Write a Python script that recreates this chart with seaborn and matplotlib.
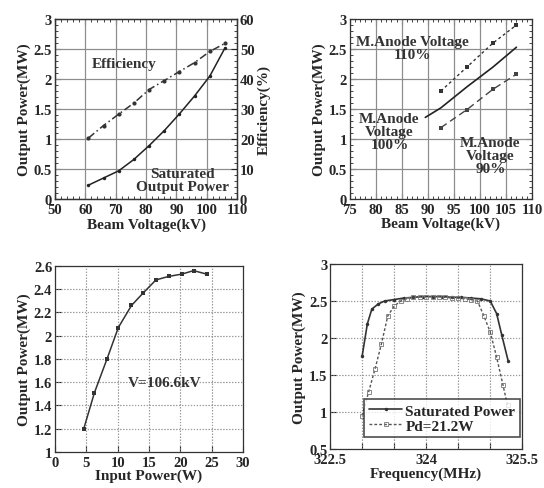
import numpy as np
import pandas as pd
import matplotlib
matplotlib.use('Agg')
import matplotlib.pyplot as plt
from matplotlib.ticker import MultipleLocator, FuncFormatter
import seaborn as sns

sns.set_style('ticks')
plt.rcParams['font.family'] = ['Liberation Serif', 'DejaVu Serif']
plt.rcParams['font.weight'] = 'bold'
plt.rcParams['axes.labelweight'] = 'bold'
plt.rcParams.update({
    'xtick.direction': 'in', 'ytick.direction': 'in',
    'xtick.major.size': 4, 'ytick.major.size': 4,
    'xtick.minor.size': 2, 'ytick.minor.size': 2,
    'xtick.labelsize': 10.5, 'ytick.labelsize': 10.5,
    'xtick.major.pad': 3, 'ytick.major.pad': 2,
    'axes.grid': True, 'axes.grid.which': 'major',
    'grid.color': '#8c8c8c', 'grid.linewidth': 0.8, 'grid.linestyle': '-',
    'axes.edgecolor': '#333333', 'axes.linewidth': 0.9,
})

# %% data
# (a) output power and efficiency vs beam voltage
beam_kv_a = [61, 66, 71, 76, 81, 86, 91, 96, 101, 106]
power_a = [0.23, 0.35, 0.47, 0.66, 0.89, 1.14, 1.42, 1.72, 2.05, 2.52]
eff_a = [20.3, 24.5, 28.3, 32, 36.5, 39.5, 42.5, 45.5, 49.2, 51.9]

# (b) output power vs beam voltage for three mod-anode voltages
beam_kv_110 = [92.5, 97.5, 102.5, 107]
power_110 = [1.8, 2.2, 2.6, 2.9]
beam_kv_100 = [89.5, 92.5, 97.5, 102.5, 107]
power_100 = [1.36, 1.52, 1.87, 2.2, 2.53]
beam_kv_90 = [92.5, 97.5, 102.5, 107]
power_90 = [1.19, 1.49, 1.83, 2.08]

# (c) output power vs input power
input_w = [4.6, 6.3, 8.3, 10.1, 12.2, 14.1, 16.1, 18.1, 20.2, 22.1, 24.2]
power_c = [1.2, 1.51, 1.8, 2.07, 2.26, 2.37, 2.48, 2.51, 2.53, 2.56, 2.53]

# (d) output power vs frequency
freq_sat = [323.0, 323.08, 323.15, 323.25, 323.35, 323.5, 323.65, 323.8, 323.95, 324.1,
            324.25, 324.4, 324.55, 324.7, 324.85, 325.0, 325.1, 325.18, 325.28]
power_sat = [1.76, 2.19, 2.39, 2.46, 2.5, 2.52, 2.54, 2.55, 2.56, 2.56,
             2.56, 2.55, 2.55, 2.54, 2.53, 2.5, 2.33, 2.04, 1.69]
freq_pd = [323.0, 323.1, 323.2, 323.3, 323.4, 323.5, 323.6, 323.7, 323.8, 323.9, 324.0,
           324.1, 324.2, 324.3, 324.4, 324.5, 324.6, 324.7, 324.8, 324.9, 325.0,
           325.1, 325.2, 325.27]
power_pd = [0.95, 1.27, 1.58, 1.92, 2.3, 2.43, 2.5, 2.53, 2.55, 2.56, 2.56,
            2.56, 2.56, 2.55, 2.54, 2.54, 2.53, 2.52, 2.5, 2.3, 2.08,
            1.74, 1.36, 1.09]
freq_labels = [322.5, 324, 325.5]

LAB_FS = 11


def g_fmt():
    return FuncFormatter(lambda v, p: f'{v:g}')


def freq_fmt(v, p):
    return f'{v:g}' if any(abs(v - f) < 1e-6 for f in freq_labels) else ''


def draw_grid(ax, color, ls):
    # grid through the axis' own major tick locations
    x0, x1 = ax.get_xlim()
    y0, y1 = ax.get_ylim()
    for t in ax.get_xticks():
        if x0 < t < x1:
            ax.axvline(t, color=color, linewidth=0.8, linestyle=ls, zorder=0.8)
    for t in ax.get_yticks():
        if y0 < t < y1:
            ax.axhline(t, color=color, linewidth=0.8, linestyle=ls, zorder=0.8)


fig = plt.figure(figsize=(5.44, 4.89), dpi=100)

# %% (a)
ax1 = fig.add_axes([0.101, 0.591, 0.335, 0.368])
sns.lineplot(x=beam_kv_a, y=power_a, ax=ax1, color='#222222', linewidth=1.1,
             marker='o', markersize=2.5, markeredgewidth=0)
ax1.set_xlim(50, 110)
ax1.set_ylim(0, 3)
ax1.xaxis.set_major_locator(MultipleLocator(10))
ax1.yaxis.set_major_locator(MultipleLocator(0.5))
ax1.xaxis.set_minor_locator(MultipleLocator(2))
ax1.yaxis.set_minor_locator(MultipleLocator(0.1))
ax1.xaxis.set_major_formatter(g_fmt())
ax1.yaxis.set_major_formatter(g_fmt())
ax1.xaxis.set_ticks_position('both')
ax1.set_xlabel('Beam Voltage(kV)', fontsize=LAB_FS, labelpad=1)
ax1.set_ylabel('Output Power(MW)', fontsize=LAB_FS, labelpad=2)
ax1.text(62, 2.2, 'Efficiency', fontsize=LAB_FS, fontweight='bold', color='#333333')
ax1.text(92, 0.1, 'Saturated\nOutput Power', fontsize=LAB_FS, fontweight='bold',
         color='#333333', ha='center', va='bottom', linespacing=1.0)
draw_grid(ax1, '#8c8c8c', '-')

ax1r = ax1.twinx()
sns.lineplot(x=beam_kv_a, y=eff_a, ax=ax1r, color='#333333', linewidth=1.1,
             linestyle=(0, (5, 2, 1, 2)), marker='o', markersize=3, markeredgewidth=0)
ax1r.set_ylim(0, 60)
ax1r.yaxis.set_major_locator(MultipleLocator(10))
ax1r.yaxis.set_minor_locator(MultipleLocator(2))
ax1r.grid(False)
ax1r.set_ylabel('Efficiency(%)', fontsize=LAB_FS, labelpad=2)

# %% (b)
ax2 = fig.add_axes([0.643, 0.591, 0.335, 0.368])
sns.lineplot(x=beam_kv_110, y=power_110, ax=ax2, color='#333333', linewidth=1.0,
             linestyle=(0, (2, 2)), marker='s', markersize=3, markeredgewidth=0)
sns.lineplot(x=beam_kv_100, y=power_100, ax=ax2, color='#222222', linewidth=1.2)
sns.lineplot(x=beam_kv_90, y=power_90, ax=ax2, color='#444444', linewidth=1.0,
             linestyle=(0, (5, 3)), marker='s', markersize=3, markeredgewidth=0)
ax2.set_xlim(75, 110)
ax2.set_ylim(0, 3)
ax2.xaxis.set_major_locator(MultipleLocator(5))
ax2.yaxis.set_major_locator(MultipleLocator(0.5))
ax2.xaxis.set_minor_locator(MultipleLocator(1))
ax2.yaxis.set_minor_locator(MultipleLocator(0.1))
ax2.xaxis.set_major_formatter(g_fmt())
ax2.yaxis.set_major_formatter(g_fmt())
ax2.xaxis.set_ticks_position('both')
ax2.yaxis.set_ticks_position('both')
ax2.set_xlabel('Beam Voltage(kV)', fontsize=LAB_FS, labelpad=0)
ax2.set_ylabel('Output Power(MW)', fontsize=LAB_FS, labelpad=2)
ax2.text(87, 2.3, 'M.Anode Voltage\n110%', fontsize=LAB_FS, fontweight='bold',
         color='#333333', ha='center', va='bottom', linespacing=1.0)
ax2.text(82.6, 0.8, 'M.Anode\nVoltage\n100%', fontsize=LAB_FS, fontweight='bold',
         color='#333333', ha='center', va='bottom', linespacing=1.0)
ax2.text(102, 0.4, 'M.Anode\nVoltage\n90%', fontsize=LAB_FS, fontweight='bold',
         color='#333333', ha='center', va='bottom', linespacing=1.0)
draw_grid(ax2, '#8c8c8c', '-')

# %% (c)
ax3 = fig.add_axes([0.101, 0.074, 0.346, 0.380])
sns.lineplot(x=input_w, y=power_c, ax=ax3, color='#333333', linewidth=1.1,
             marker='s', markersize=2.5, markeredgewidth=0)
ax3.set_xlim(0, 30)
ax3.set_ylim(1, 2.6)
ax3.xaxis.set_major_locator(MultipleLocator(5))
ax3.yaxis.set_major_locator(MultipleLocator(0.2))
ax3.xaxis.set_major_formatter(g_fmt())
ax3.yaxis.set_major_formatter(g_fmt())
ax3.grid(True, which='major', color='#9a9a9a', linewidth=0.8, linestyle=':')
ax3.set_xlabel('Input Power(W)', fontsize=LAB_FS, labelpad=0)
ax3.set_ylabel('Output Power(MW)', fontsize=LAB_FS, labelpad=2)
ax3.text(17.5, 1.6, 'V=106.6kV', fontsize=LAB_FS, fontweight='bold', color='#333333',
         ha='center', va='center')
draw_grid(ax3, '#9a9a9a', ':')

# %% (d)
ax4 = fig.add_axes([0.607, 0.080, 0.353, 0.378])
sns.lineplot(x=freq_sat, y=power_sat, ax=ax4, color='#333333', linewidth=1.2,
             marker='o', markersize=2.5, markeredgewidth=0, label='Saturated Power')
sns.lineplot(x=freq_pd, y=power_pd, ax=ax4, color='#555555', linewidth=1.0,
             linestyle=(0, (2, 1.5)), marker='s', markersize=3.5, markerfacecolor='none',
             markeredgecolor='#777777', markeredgewidth=0.6, label='Pd=21.2W')
ax4.set_xlim(322.5, 325.5)
ax4.set_ylim(0.5, 3)
ax4.xaxis.set_major_locator(MultipleLocator(0.5))
ax4.xaxis.set_major_formatter(FuncFormatter(freq_fmt))
ax4.yaxis.set_major_locator(MultipleLocator(0.5))
ax4.yaxis.set_major_formatter(g_fmt())
ax4.grid(True, which='major', color='#9a9a9a', linewidth=0.8, linestyle=':')
ax4.set_xlabel('Frequency(MHz)', fontsize=LAB_FS, labelpad=0)
ax4.set_ylabel('Output Power(MW)', fontsize=LAB_FS, labelpad=2)
draw_grid(ax4, '#9a9a9a', ':')
leg = ax4.legend(loc='lower right', bbox_to_anchor=(1.0, 0.05), fontsize=LAB_FS,
                 frameon=True, fancybox=False, handlelength=2.2, handletextpad=0.2,
                 borderpad=0.3, labelspacing=0.1, borderaxespad=0.15)
leg.get_frame().set_edgecolor('#222222')
leg.get_frame().set_linewidth(1.2)
for t in leg.get_texts():
    t.set_fontweight('bold')

fig.savefig('out.png', dpi=100)
